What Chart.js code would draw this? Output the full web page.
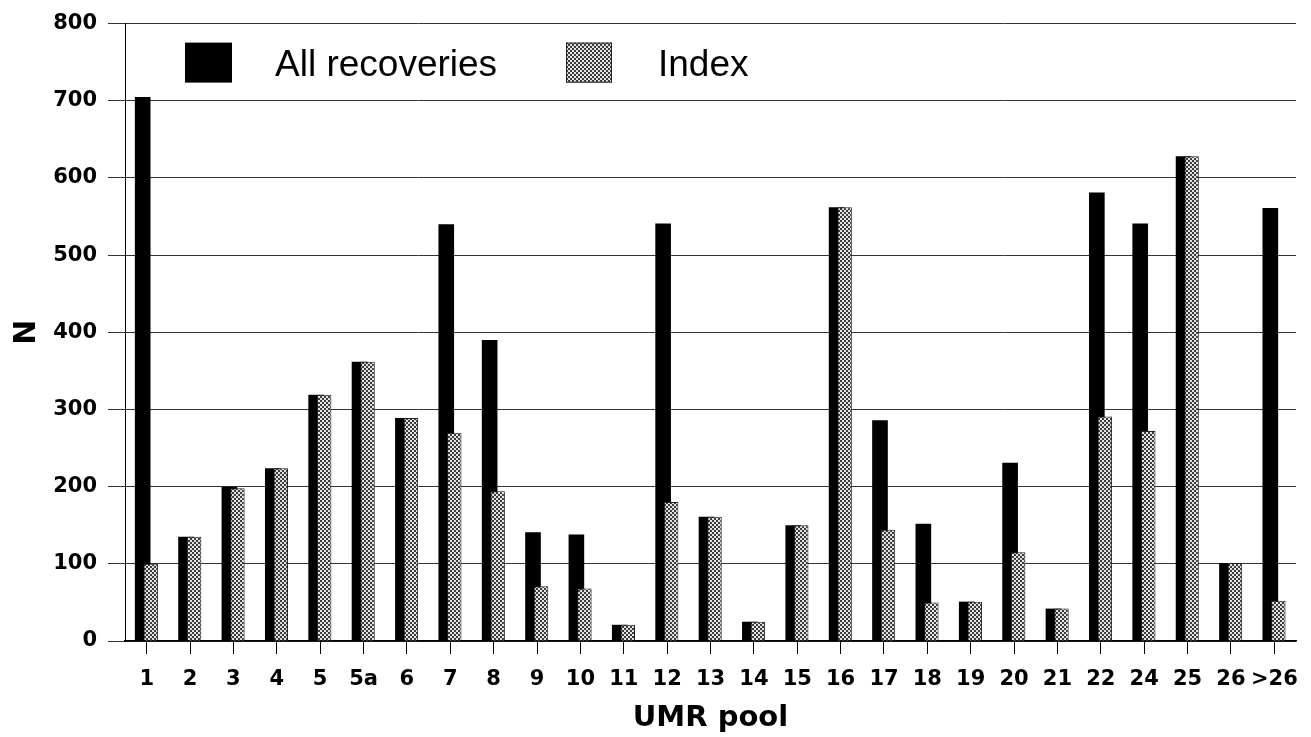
<!DOCTYPE html>
<html>
<head>
<meta charset="utf-8">
<script src="https://cdn.jsdelivr.net/npm/chart.js@4.4.1/dist/chart.umd.min.js"></script>
<style>
  body { margin: 0; background: #fff; }
  #wrap { width: 1311px; height: 737px; }
</style>
</head>
<body>
<div id="wrap"><canvas id="myChart" width="1311" height="737"></canvas></div>
<script>
// UMR pools on the x axis
let categories = ['1', '2', '3', '4', '5', '5a', '6', '7', '8', '9', '10', '11', '12', '13',
    '14', '15', '16', '17', '18', '19', '20', '21', '22', '24', '25', '26', '>26'];

// N per pool
let allRecoveries = [705, 135, 200, 224, 319, 362, 289, 540, 390, 141, 138, 21, 541, 161,
    25, 150, 562, 286, 152, 51, 231, 42, 581, 541, 628, 101, 561];
let indexValues = [100, 135, 198, 224, 319, 362, 289, 270, 194, 71, 68, 21, 180, 161,
    25, 150, 562, 144, 50, 51, 115, 42, 291, 272, 628, 101, 52];

let yMin = 0;
let yMax = 800;
let yStep = 100;

let seriesNames = ['All recoveries', 'Index'];

document.addEventListener('DOMContentLoaded', function() {
    let canvas = document.getElementById('myChart');
    let ctx = canvas.getContext('2d');

    // grey stipple like the printed screen tone
    function makeStipple() {
        let tile = document.createElement('canvas');
        tile.width = 4;
        tile.height = 4;
        let t = tile.getContext('2d');
        t.fillStyle = '#e2e2e2';
        t.fillRect(0, 0, 4, 4);
        t.fillStyle = '#3c3c3c';
        t.fillRect(0, 0, 2, 2);
        t.fillRect(2, 2, 2, 2);
        return ctx.createPattern(tile, 'repeat');
    }
    let stipple = makeStipple();

    // black bars first, stippled bars drawn over them
    let barsOrder = {
        id: 'barsOrder',
        beforeDatasetsDraw(chart) {
            chart.getDatasetMeta(0).controller.draw();
            chart.getDatasetMeta(1).controller.draw();
            return false;
        }
    };

    // legend sits inside the plot, between the 700 and 800 lines
    let insideLegend = {
        id: 'insideLegend',
        afterDraw(chart) {
            let c = chart.ctx;
            let area = chart.chartArea;
            let x0 = area.left + 60;
            let y0 = area.top + 19;
            c.save();
            c.fillStyle = '#000';
            c.fillRect(x0, y0, 47, 40);
            c.fillStyle = stipple;
            c.fillRect(x0 + 381, y0, 46, 40);
            c.strokeStyle = '#222';
            c.lineWidth = 1;
            c.strokeRect(x0 + 381.5, y0 + 0.5, 45, 39);
            c.fillStyle = '#000';
            c.font = '37px "Liberation Sans", Arial, sans-serif';
            c.textBaseline = 'alphabetic';
            c.fillText(seriesNames[0], x0 + 90, y0 + 33);
            c.fillText(seriesNames[1], x0 + 473, y0 + 33);
            c.restore();
        }
    };

    let tickFont = { family: '"DejaVu Sans", sans-serif', size: 21, weight: 'bold' };

    new Chart(ctx, {
        type: 'bar',
        data: {
            labels: categories,
            datasets: [{
                label: seriesNames[0],
                data: allRecoveries,
                backgroundColor: '#000',
                borderWidth: 0,
                categoryPercentage: 0.37,
                barPercentage: 1.95
            }, {
                label: seriesNames[1],
                data: indexValues,
                backgroundColor: stipple,
                borderColor: '#222',
                borderWidth: 1,
                borderSkipped: 'bottom',
                categoryPercentage: 0.37,
                barPercentage: 1.8
            }]
        },
        options: {
            responsive: false,
            animation: false,
            layout: { padding: { top: 19, right: 14, left: 0, bottom: 0 } },
            plugins: {
                legend: { display: false },
                tooltip: { enabled: false }
            },
            scales: {
                x: {
                    grid: {
                        drawOnChartArea: false,
                        drawTicks: true,
                        tickLength: 13,
                        offset: false,
                        color: '#000'
                    },
                    border: { color: '#000', width: 1.5 },
                    ticks: {
                        color: '#000',
                        font: tickFont,
                        padding: 13,
                        maxRotation: 0,
                        autoSkip: false
                    },
                    title: {
                        display: true,
                        text: 'UMR pool',
                        color: '#000',
                        font: { family: '"DejaVu Sans", sans-serif', size: 29, weight: 'bold', lineHeight: 1 },
                        padding: { top: 0, bottom: 4 }
                    },
                    afterFit(scale) { scale.height = 96; }
                },
                y: {
                    min: yMin,
                    max: yMax,
                    ticks: {
                        stepSize: yStep,
                        color: '#000',
                        font: tickFont,
                        padding: 11
                    },
                    grid: {
                        color: '#333',
                        lineWidth: 1,
                        tickLength: 17
                    },
                    border: { color: '#000', width: 1 },
                    title: {
                        display: true,
                        text: 'N',
                        color: '#000',
                        font: { family: '"DejaVu Sans", sans-serif', size: 30, weight: 'bold', lineHeight: 1 },
                        padding: { top: 12, bottom: 0 }
                    },
                    afterFit(scale) { scale.width = 125; }
                }
            }
        },
        plugins: [barsOrder, insideLegend]
    });
});
</script>
</body>
</html>
